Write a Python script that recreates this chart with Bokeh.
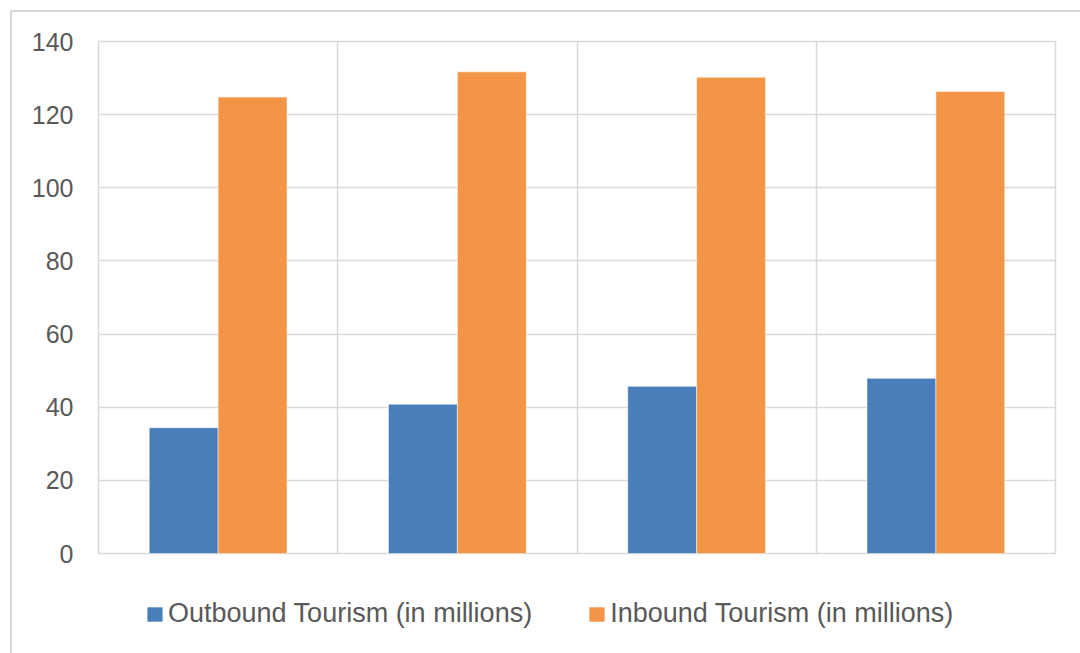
from bokeh.plotting import figure
from bokeh.models import ColumnDataSource, FixedTicker, Range1d, Legend, LegendItem
from bokeh.layouts import column
from bokeh.embed import file_html
from bokeh.resources import INLINE

groups = [0, 1, 2, 3]
outbound = [34.4, 40.8, 45.7, 47.9]
inbound = [124.8, 131.7, 130.2, 126.3]
y_ticks = [0, 20, 40, 60, 80, 100, 120, 140]
series_names = ["Outbound Tourism (in millions)", "Inbound Tourism (in millions)"]

BLUE = "#4A7EBB"
ORANGE = "#F39546"
GRID = "#D9D9D9"
TEXT = "#595959"
FONT = "Liberation Sans"

OFF = 12  # outer frame offset (margin + border)
W = 1080 - OFF
FRAME_LEFT = 98

bw = 0.288
src = ColumnDataSource(dict(
    xo=[g - bw / 2 for g in groups],
    xi=[g + bw / 2 for g in groups],
    outbound=outbound,
    inbound=inbound,
))

p = figure(width=W, height=580 - OFF, output_backend="svg", toolbar_location=None,
           x_range=Range1d(-0.5, 3.5), y_range=Range1d(0, 140),
           min_border_left=FRAME_LEFT - OFF, min_border_right=25, min_border_top=41 - OFF, min_border_bottom=27)
p.background_fill_color = "white"
p.border_fill_color = "white"
p.outline_line_color = GRID
p.outline_line_width = 1.5

p.vbar(x="xo", top="outbound", width=bw, source=src, fill_color=BLUE, line_color="white", line_width=0.5)
p.vbar(x="xi", top="inbound", width=bw, source=src, fill_color=ORANGE, line_color="white", line_width=0.5)

p.xaxis.visible = False
p.xgrid.ticker = FixedTicker(ticks=[g + 0.5 for g in groups[:-1]])
p.xgrid.grid_line_color = GRID
p.xgrid.grid_line_width = 1.5

p.yaxis.ticker = FixedTicker(ticks=y_ticks)
p.yaxis.axis_line_color = None
p.yaxis.major_tick_line_color = None
p.yaxis.minor_tick_line_color = None
p.yaxis.major_tick_in = 0
p.yaxis.major_tick_out = 0
p.yaxis.major_label_standoff = 25
p.yaxis.major_label_text_font = FONT
p.yaxis.major_label_text_font_size = "25px"
p.yaxis.major_label_text_color = TEXT
p.ygrid.grid_line_color = GRID
p.ygrid.grid_line_width = 1.5

# legend strip below the chart (zero-width proxy bars; only the legend shows)
lg = figure(width=W, height=653 - 580, output_backend="svg", toolbar_location=None,
            x_range=Range1d(-0.5, 3.5), y_range=Range1d(0, 140),
            x_axis_location=None, y_axis_location=None,
            min_border_left=0, min_border_right=0, min_border_top=0, min_border_bottom=0)
lg.outline_line_color = None
lg.grid.visible = False
lg.background_fill_color = "white"
lg.border_fill_color = "white"
d1 = lg.vbar(x="xo", top="outbound", width=0, source=src, fill_color=BLUE, line_color=None)
d2 = lg.vbar(x="xi", top="inbound", width=0, source=src, fill_color=ORANGE, line_color=None)

legend = Legend(items=[LegendItem(label=series_names[0], renderers=[d1]),
                       LegendItem(label=series_names[1], renderers=[d2])],
                orientation="horizontal", location=(145 - FRAME_LEFT, 24),
                padding=0, margin=0, spacing=55,
                border_line_color=None, background_fill_alpha=0,
                glyph_width=19, glyph_height=18, label_standoff=4,
                label_text_font=FONT, label_text_font_size="27px", label_text_color=TEXT)
lg.add_layout(legend, "center")

layout = column(p, lg, spacing=0, margin=(10, 0, 0, 10),
                styles={"border-left": "2px solid #D9D9D9", "border-top": "2px solid #D9D9D9",
                        "background-color": "white"})

open("out.html", "w").write(file_html(layout, INLINE))
